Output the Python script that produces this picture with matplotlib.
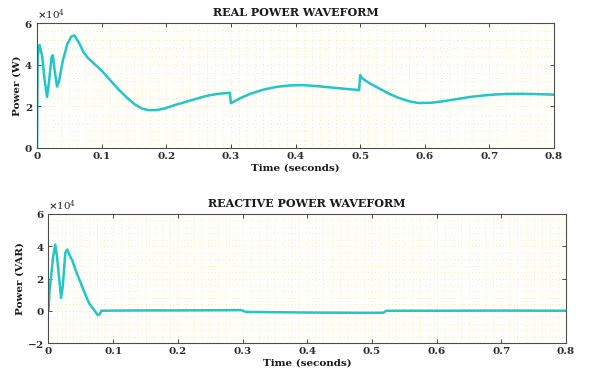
import numpy as np
import matplotlib.pyplot as plt
from matplotlib.ticker import ScalarFormatter, MultipleLocator

# real power samples (seconds, watts)
t_p = [0, 0.001, 0.004, 0.008, 0.012, 0.0156, 0.019, 0.0225, 0.0245, 0.027, 0.031, 0.034,
       0.04, 0.047, 0.053, 0.058, 0.065, 0.072, 0.078, 0.09, 0.099, 0.112, 0.125, 0.138,
       0.151, 0.162, 0.172, 0.185, 0.198, 0.212, 0.229, 0.245, 0.262, 0.28, 0.2985,
       0.3, 0.303, 0.315, 0.33, 0.35, 0.37, 0.39, 0.41, 0.43, 0.45, 0.47, 0.4985,
       0.5, 0.503, 0.515, 0.53, 0.545, 0.56, 0.575, 0.59, 0.61, 0.63, 0.65, 0.67,
       0.69, 0.71, 0.73, 0.75, 0.77, 0.8]
p_real = [0, 44000, 49500, 44000, 32000, 24500, 33000, 43500, 44500, 38000, 29500, 32000,
          42000, 50000, 53500, 54000, 50500, 46000, 43500, 40000, 37500, 33000, 28500, 24500,
          21000, 19000, 18200, 18200, 19000, 20500, 22000, 23500, 25000, 26000, 26500,
          21500, 22000, 24000, 26000, 28000, 29300, 30000, 30200, 29800, 29200, 28600, 27800,
          35000, 33500, 31000, 28500, 26000, 24000, 22500, 21600, 21700, 22500, 23500, 24500,
          25200, 25700, 26000, 26000, 25900, 25600]

# reactive power samples (seconds, VAR)
t_q = [0, 0.0015, 0.0037, 0.007, 0.0105, 0.013, 0.016, 0.0195, 0.022, 0.026, 0.029,
       0.033, 0.037, 0.043, 0.05, 0.057, 0.063, 0.07, 0.076, 0.0795, 0.0816, 0.1, 0.15,
       0.2, 0.25, 0.298, 0.305, 0.35, 0.4, 0.45, 0.5, 0.518, 0.522, 0.6, 0.7, 0.8]
q_react = [0, 12000, 20000, 33000, 41000, 34000, 22000, 8000, 15000, 36000, 38000,
           34000, 31000, 24000, 17000, 10000, 4500, 800, -2700, -2000, 0, 100, 200,
           200, 300, 400, -700, -900, -1100, -1200, -1300, -1200, 0, 0, 100, 0]

line_color = "#22c6c4"
grid_color = "#f1cf96"
text_color = "#2b2b2b"

plt.rcParams["font.family"] = "DejaVu Serif"
plt.rcParams["font.weight"] = "bold"
plt.rcParams["mathtext.fontset"] = "dejavuserif"
plt.rcParams["axes.unicode_minus"] = False

fig = plt.figure(figsize=(5.96, 3.76), dpi=100)
ax1 = fig.add_axes([37 / 596, 1 - 148 / 376, 517 / 596, 125 / 376])
ax2 = fig.add_axes([48.5 / 596, 1 - 343 / 376, 517.5 / 596, 129 / 376])


def style_axes(ax, ylim, yticks, title, ylabel):
    ax.set_facecolor("#fffffb")
    ax.set_xlim(0, 0.8)
    ax.set_ylim(*ylim)
    ax.set_xticks(np.arange(0, 0.81, 0.1))
    ax.set_xticklabels(["0", "0.1", "0.2", "0.3", "0.4", "0.5", "0.6", "0.7", "0.8"])
    ax.set_yticks(yticks)
    ax.xaxis.set_minor_locator(MultipleLocator(0.0125))
    ax.yaxis.set_minor_locator(MultipleLocator(4000))
    fmt = ScalarFormatter(useMathText=True)
    fmt.set_powerlimits((4, 4))
    ax.yaxis.set_major_formatter(fmt)
    ax.yaxis.get_offset_text().set_fontsize(7.5)
    ax.yaxis.get_offset_text().set_fontweight("normal")
    ax.yaxis.get_offset_text().set_color(text_color)
    ax.grid(True, which="both", color=grid_color, linestyle=(0, (1, 4)), linewidth=0.5)
    ax.set_axisbelow(True)
    ax.tick_params(which="major", direction="in", top=True, right=True, length=3,
                   width=0.6, labelsize=7.5, colors=text_color, pad=3)
    ax.tick_params(which="minor", length=0)
    for s in ax.spines.values():
        s.set_color("#4d4d4d")
        s.set_linewidth(0.8)
    ax.set_title(title, fontsize=8, fontweight="bold", color="#1a1a1a", pad=5)
    ax.set_xlabel("Time (seconds)", fontsize=7.5, fontweight="bold", color="#1a1a1a", labelpad=2)
    ax.set_ylabel(ylabel, fontsize=7.5, fontweight="bold", color="#1a1a1a", labelpad=2)


ax1.plot(t_p, p_real, color=line_color, linewidth=1.8)
style_axes(ax1, (0, 60000), [0, 20000, 40000, 60000], "REAL POWER WAVEFORM", "Power (W)")

ax2.plot(t_q, q_react, color=line_color, linewidth=1.8)
style_axes(ax2, (-20000, 60000), [-20000, 0, 20000, 40000, 60000],
           "REACTIVE POWER WAVEFORM", "Power (VAR)")

fig.savefig("out.png", dpi=100, facecolor="white")
